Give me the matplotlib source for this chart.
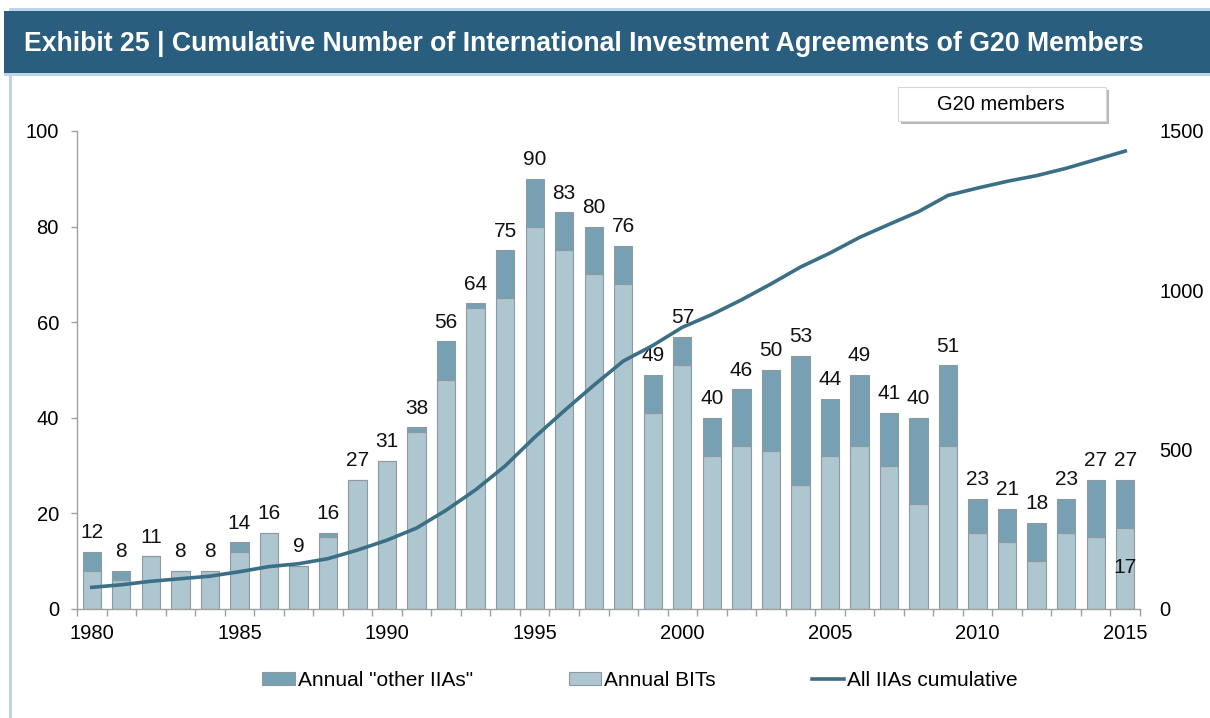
import numpy as np
import matplotlib.pyplot as plt
from matplotlib.patches import Rectangle, FancyBboxPatch
from matplotlib.lines import Line2D

plt.rcParams['font.family'] = ['Liberation Sans', 'DejaVu Sans']

years = list(range(1980, 2016))
bits = [8, 6, 11, 8, 8, 12, 16, 9, 15, 27, 31, 37, 48, 63, 65, 80, 75, 70, 68, 41,
        51, 32, 34, 33, 26, 32, 34, 30, 22, 34, 16, 14, 10, 16, 15, 17]
other = [4, 2, 0, 0, 0, 2, 0, 0, 1, 0, 0, 1, 8, 1, 10, 10, 8, 10, 8, 8,
         6, 8, 12, 17, 27, 12, 15, 11, 18, 17, 7, 7, 8, 7, 12, 10]
cumulative = [68, 76, 87, 95, 103, 117, 133, 142, 158, 185, 216, 254, 310, 374, 449, 539,
              622, 702, 778, 827, 884, 924, 970, 1020, 1073, 1117, 1166, 1207, 1247, 1298,
              1321, 1342, 1360, 1383, 1410, 1437]

c_other = '#77a1b3'
c_bit = '#adc6d0'
c_line = '#3b6f86'
c_edge = '#8e9aa0'

W, H = 1210, 718
fig = plt.figure(figsize=(W / 100, H / 100), dpi=100)

# frame and title banner
fig.add_artist(Rectangle((9 / W, 0), 3 / W, 1 - 9 / H, transform=fig.transFigure,
                         color='#bcd5ea', lw=0))
fig.add_artist(Rectangle((9 / W, 1 - 11 / H), 1, 3 / H, transform=fig.transFigure,
                         color='#bcd5ea', lw=0))
fig.add_artist(Rectangle((4 / W, 1 - 73 / H), 1, 62 / H, transform=fig.transFigure,
                         color='#2a5e7f', lw=0))
fig.add_artist(Rectangle((4 / W, 1 - 76 / H), 1, 3 / H, transform=fig.transFigure,
                         color='#bcd5ea', lw=0))
fig.text(24 / W, 1 - 44 / H,
         'Exhibit 25 | Cumulative Number of International Investment Agreements of G20 Members',
         color='white', fontsize=19.2, fontweight='bold', va='center', ha='left')

ax = fig.add_axes([77 / W, 109 / H, 1063 / W, 478 / H])
x = np.arange(len(years))
totals = [b + o for b, o in zip(bits, other)]
ax.bar(x, bits, width=0.62, color=c_bit, edgecolor=c_edge, linewidth=0.8, zorder=2)
ax.bar(x, other, width=0.62, bottom=bits, color=c_other, edgecolor=c_edge, linewidth=0.8, zorder=2)

for xi, t in zip(x, totals):
    ax.text(xi, t + 2.0, str(t), ha='center', va='bottom', fontsize=15, color='#111111')
ax.text(x[-1], bits[-1] - 8.4, str(bits[-1]), ha='center', va='center', fontsize=15, color='#111111')

ax.set_xlim(-0.5, len(years) - 0.5)
ax.set_ylim(0, 100)
ax.set_yticks([0, 20, 40, 60, 80, 100])
ax.tick_params(axis='y', length=4, width=1, color='#a0a0a0', pad=9, labelsize=14.5)
ax.set_xticks(np.arange(-0.5, len(years), 1))
ax.set_xticklabels([])
ax.tick_params(axis='x', which='major', length=5, width=1, color='#a0a0a0')
ax.set_xticks([i for i, y in enumerate(years) if y % 5 == 0], minor=True)
ax.set_xticklabels([str(y) for y in years if y % 5 == 0], minor=True)
ax.tick_params(axis='x', which='minor', length=0, pad=11, labelsize=14.5)
for s in ['top', 'right']:
    ax.spines[s].set_visible(False)
for s in ['left', 'bottom']:
    ax.spines[s].set_color('#a0a0a0')
    ax.spines[s].set_linewidth(1)

ax2 = ax.twinx()
ax2.plot(x, cumulative, color=c_line, lw=2.6, zorder=3)
ax2.set_ylim(0, 1500)
ax2.set_yticks([0, 500, 1000, 1500])
ax2.tick_params(axis='y', length=0, pad=14, labelsize=14.5)
for s in ax2.spines.values():
    s.set_visible(False)

# "G20 members" box
fig.add_artist(FancyBboxPatch((901 / W, 1 - 124 / H), 208 / W, 34 / H, boxstyle='square,pad=0',
                              transform=fig.transFigure, facecolor='#b8b8b8', edgecolor='none'))
fig.add_artist(FancyBboxPatch((898 / W, 1 - 121 / H), 208 / W, 34 / H, boxstyle='square,pad=0',
                              transform=fig.transFigure, facecolor='white', edgecolor='#d8d8d8', lw=0.8))
fig.text(1001 / W, 1 - 104 / H, 'G20 members', ha='center', va='center', fontsize=14.5)

handles = [Rectangle((0, 0), 1, 1, facecolor=c_other, edgecolor=c_edge, lw=0.8),
           Rectangle((0, 0), 1, 1, facecolor=c_bit, edgecolor=c_edge, lw=0.8),
           Line2D([], [], color=c_line, lw=2.6)]
fig.legend(handles, ['Annual "other IIAs"', 'Annual BITs', 'All IIAs cumulative'],
           loc='center', bbox_to_anchor=(640 / W, 1 - 680 / H), ncol=3, frameon=False,
           fontsize=15, handlelength=1.55, handleheight=0.6, handletextpad=0.15,
           columnspacing=4.6)

fig.savefig('out.png', dpi=100, facecolor='white')
